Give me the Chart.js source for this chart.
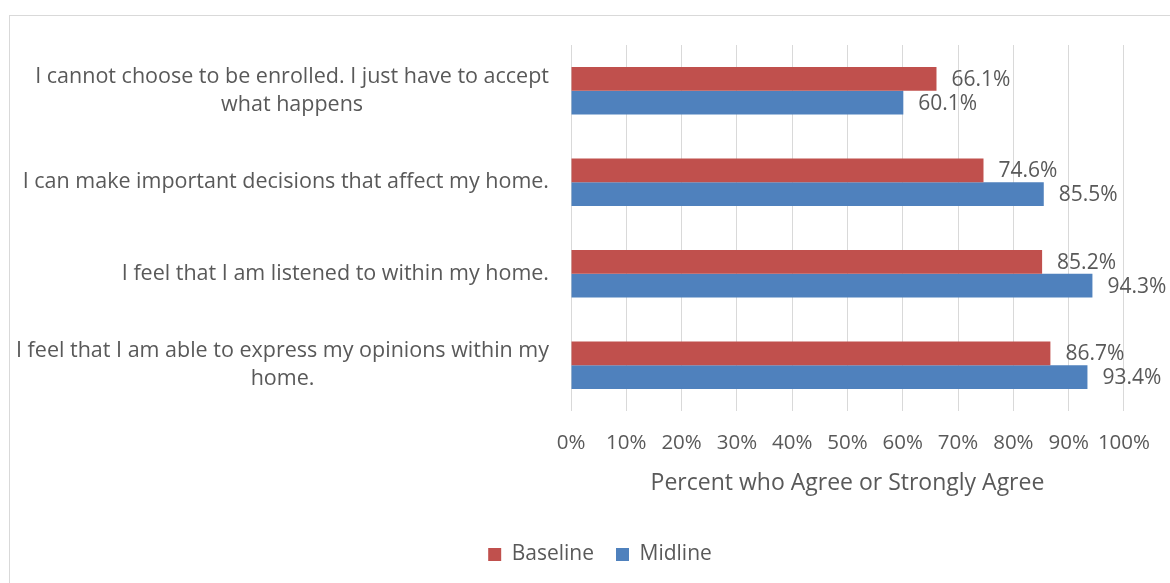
<!DOCTYPE html>
<html>
<head>
<meta charset="utf-8">
<script src="https://cdn.jsdelivr.net/npm/chart.js@4/dist/chart.umd.min.js"></script>
<style>
  html, body { margin: 0; padding: 0; background: #ffffff; }
  #wrap { width: 1170px; height: 583px; position: relative; }
</style>
</head>
<body>
<div id="wrap"><canvas id="chart" width="1170" height="583"></canvas></div>
<script>
// Survey statements (multi-line where the label wraps)
const categories = [
  ["I cannot choose to be enrolled. I just have to accept", "what happens"],
  ["I can make important decisions that affect my home."],
  ["I feel that I am listened to within my home."],
  ["I feel that I am able to express my opinions within my", "home."]
];
// Percent who agree or strongly agree
const baseline = [66.1, 74.6, 85.2, 86.7];
const midline  = [60.1, 85.5, 94.3, 93.4];
const seriesNames = ["Baseline", "Midline"];
const xTicks = [0, 10, 20, 30, 40, 50, 60, 70, 80, 90, 100];
const axisTitle = "Percent who Agree or Strongly Agree";

const TEXT = "#595959";
const FONT = "'Open Sans', sans-serif";

// White background with a thin outer frame
const framePlugin = {
  id: "frame",
  beforeDraw(chart) {
    const ctx = chart.ctx;
    ctx.save();
    ctx.fillStyle = "#ffffff";
    ctx.fillRect(0, 0, chart.width, chart.height);
    ctx.strokeStyle = "#d9d9d9";
    ctx.lineWidth = 1;
    ctx.strokeRect(9.5, 15.5, chart.width + 10, chart.height + 10);
    ctx.restore();
  }
};

// Category labels: each block right-aligned, lines centred within the block
const categoryLabelPlugin = {
  id: "categoryLabels",
  afterDraw(chart) {
    const ctx = chart.ctx;
    const yScale = chart.scales.y;
    const rightEdge = chart.chartArea.left - 22;
    const lineH = 28;
    ctx.save();
    ctx.font = "21.5px " + FONT;
    ctx.fillStyle = TEXT;
    ctx.textAlign = "center";
    ctx.textBaseline = "middle";
    categories.forEach((lines, i) => {
      const yc = yScale.getPixelForValue(i);
      const w = Math.max(...lines.map(l => ctx.measureText(l).width));
      const xc = rightEdge - w / 2;
      const y0 = yc - (lines.length - 1) * lineH / 2;
      lines.forEach((l, k) => ctx.fillText(l, xc, y0 + k * lineH));
    });
    ctx.restore();
  }
};

// Value labels just past the end of each bar
const valueLabelPlugin = {
  id: "valueLabels",
  afterDatasetsDraw(chart) {
    const ctx = chart.ctx;
    ctx.save();
    ctx.font = "21px " + FONT;
    ctx.fillStyle = TEXT;
    ctx.textAlign = "left";
    ctx.textBaseline = "middle";
    chart.data.datasets.forEach((ds, di) => {
      const meta = chart.getDatasetMeta(di);
      meta.data.forEach((bar, i) => {
        ctx.fillText(ds.data[i].toFixed(1) + "%", bar.x + 15, bar.y + 1);
      });
    });
    ctx.restore();
  }
};

new Chart(document.getElementById("chart"), {
  type: "bar",
  data: {
    labels: categories,
    datasets: [
      { label: seriesNames[0], data: baseline, backgroundColor: "#C0504D" },
      { label: seriesNames[1], data: midline, backgroundColor: "#4F81BD" }
    ]
  },
  options: {
    indexAxis: "y",
    responsive: false,
    animation: false,
    devicePixelRatio: 1,
    categoryPercentage: 0.52,
    barPercentage: 1.0,
    layout: { padding: { left: 75, right: 45, top: 45, bottom: 8 } },
    scales: {
      x: {
        min: 0,
        max: 100,
        afterBuildTicks(scale) { scale.ticks = xTicks.map(v => ({ value: v })); },
        afterFit(scale) { scale.height = 111; },
        grid: { color: "#d9d9d9", lineWidth: 1, drawTicks: false },
        border: { display: false },
        ticks: {
          autoSkip: false,
          padding: 20,
          color: TEXT,
          font: { family: FONT, size: 20.5 },
          callback: v => v + "%",
          maxRotation: 0
        },
        title: {
          display: true,
          text: axisTitle,
          color: TEXT,
          font: { family: FONT, size: 23 },
          padding: { top: 0, bottom: 25 }
        }
      },
      y: {
        grid: { display: false },
        border: { display: false },
        ticks: { display: false },
        afterFit(scale) { scale.width = 496; }
      }
    },
    plugins: {
      legend: {
        position: "bottom",
        labels: {
          color: TEXT,
          font: { family: FONT, size: 21 },
          boxWidth: 13,
          boxHeight: 13,
          padding: 22
        }
      },
      tooltip: { enabled: false }
    }
  },
  plugins: [framePlugin, categoryLabelPlugin, valueLabelPlugin]
});
</script>
</body>
</html>
